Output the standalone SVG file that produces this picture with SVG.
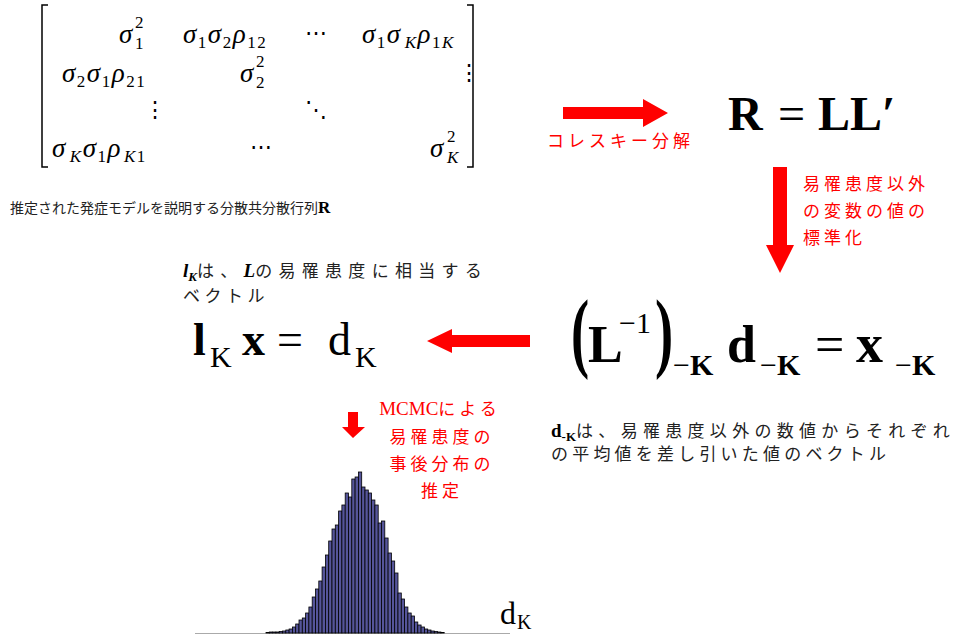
<svg xmlns="http://www.w3.org/2000/svg" width="956" height="637" viewBox="0 0 956 637">
<style>
.m{font-family:"Liberation Serif",serif;font-style:italic;font-size:27px;letter-spacing:1.5px;fill:#000}
.sb{font-family:"Liberation Serif",serif;font-style:normal;font-size:17px;fill:#000}
.sbi{font-family:"Liberation Serif",serif;font-style:italic;font-size:17px;fill:#000}
.dots{font-family:"DejaVu Serif",serif;font-size:22px;fill:#000}
.bf{font-family:"Liberation Serif",serif;font-weight:bold;fill:#000}
.rm{font-family:"Liberation Serif",serif;fill:#000}
.jp{font-family:"Liberation Sans","Noto Sans CJK JP",sans-serif;font-size:17px;letter-spacing:4.5px;fill:#222}
.jps{font-family:"Liberation Sans","Noto Sans CJK JP",sans-serif;font-size:14px;letter-spacing:0px;fill:#222}
.red{font-family:"Liberation Sans","Noto Sans CJK JP",sans-serif;font-size:17px;letter-spacing:4px;fill:#ff0000}
.arrow{fill:#ff0000}
.bar{fill:#55559a;stroke:#000;stroke-width:0.8}
.br{fill:none;stroke:#000;stroke-width:1.5}
.ns{letter-spacing:0px}
</style>

<g id="matrix">
  <path class="br" d="M48,5 H42 V167 H48"/>
  <path class="br" d="M467,5 H473 V167 H467"/>
  <text class="m" x="119" y="43">σ</text><text class="sb" x="135" y="49">1</text><text class="sb" x="135" y="28">2</text>
  <text class="m" x="183" y="43">σ<tspan class="sb" dy="5">1</tspan><tspan dy="-5">σ</tspan><tspan class="sb" dy="5">2</tspan><tspan dy="-5">ρ</tspan><tspan class="sb" dy="5">12</tspan></text>
  <text class="dots" x="305" y="40">⋯</text>
  <text class="m" x="362" y="43">σ<tspan class="sb" dy="5">1</tspan><tspan dy="-5">σ</tspan><tspan class="sbi" dy="5" dx="3">K</tspan><tspan dy="-5">ρ</tspan><tspan class="sb" dy="5">1</tspan><tspan class="sbi">K</tspan></text>
  <text class="m" x="62" y="82">σ<tspan class="sb" dy="5">2</tspan><tspan dy="-5">σ</tspan><tspan class="sb" dy="5">1</tspan><tspan dy="-5">ρ</tspan><tspan class="sb" dy="5">21</tspan></text>
  <text class="m" x="240" y="82">σ</text><text class="sb" x="256" y="88">2</text><text class="sb" x="256" y="67">2</text>
  <text class="dots" x="458" y="80">⋮</text>
  <text class="dots" x="144" y="117">⋮</text>
  <text class="dots" x="305" y="117">⋱</text>
  <text class="m" x="52" y="157">σ<tspan class="sbi" dy="5" dx="3">K</tspan><tspan dy="-5">σ</tspan><tspan class="sb" dy="5">1</tspan><tspan dy="-5">ρ</tspan><tspan class="sbi" dy="5" dx="2">K</tspan><tspan class="sb">1</tspan></text>
  <text class="dots" x="250" y="154">⋯</text>
  <text class="m" x="430" y="157">σ</text><text class="sbi" x="447" y="163">K</text><text class="sb" x="447" y="142">2</text>
</g>

<g id="caption-matrix">
  <text class="jps" x="10" y="213">推定された発症モデルを説明する分散共分散行列<tspan class="bf" font-size="17">R</tspan></text>
</g>

<g id="eq-R">
  <text class="bf" font-size="48" x="728" y="130">R</text>
  <text class="rm" font-size="48" x="778" y="130">=</text>
  <text class="bf" font-size="48" x="818" y="130">LL′</text>
</g>

<g id="label-cholesky">
  <text class="red" x="547" y="147">コレスキー分解</text>
</g>

<g id="label-standardize">
  <text class="red" x="803" y="190">易罹患度以外</text>
  <text class="red" x="803" y="217">の変数の値の</text>
  <text class="red" x="803" y="244">標準化</text>
</g>

<g id="eq-x">
  <text class="bf" font-size="88" transform="translate(571,361) scale(0.62,1)">(</text>
  <text class="bf" font-size="52" x="588" y="362">L</text>
  <text class="rm" font-size="30" x="619" y="333">−1</text>
  <text class="bf" font-size="88" transform="translate(655,361) scale(0.62,1)">)</text>
  <text class="bf" font-size="30" x="673" y="375"><tspan font-weight="normal">−</tspan>K</text>
  <text class="bf" font-size="52" x="727" y="362">d</text>
  <text class="bf" font-size="30" x="760" y="375"><tspan font-weight="normal">−</tspan>K</text>
  <text class="rm" font-size="52" x="815" y="362">=</text>
  <text class="bf" font-size="54" x="856" y="362">x</text>
  <text class="bf" font-size="30" x="895" y="375"><tspan font-weight="normal">−</tspan>K</text>
</g>

<g id="caption-d">
  <text class="jp" x="551" y="437" style="letter-spacing:5.3px"><tspan class="bf ns" font-size="19">d</tspan><tspan class="bf ns" font-size="13" dy="4">-K</tspan><tspan dy="-4">は、易罹患度以外の数値からそれぞれ</tspan></text>
  <text class="jp" x="551" y="460" style="letter-spacing:4.2px">の平均値を差し引いた値のベクトル</text>
</g>

<g id="eq-l">
  <text class="bf" font-size="46" x="193" y="355">l</text>
  <text class="rm" font-size="30" x="210" y="367">K</text>
  <text class="bf" font-size="46" x="242" y="355">x</text>
  <text class="rm" font-size="46" x="277" y="355">=</text>
  <text class="rm" font-size="46" x="328" y="355">d</text>
  <text class="rm" font-size="30" x="355" y="367">K</text>
</g>

<g id="caption-l">
  <text class="jp" x="183" y="277" style="letter-spacing:6.3px"><tspan class="bf ns" font-style="italic" font-size="19">l</tspan><tspan class="bf ns" font-style="italic" font-size="13" dy="4">K</tspan><tspan dy="-4">は、</tspan><tspan class="bf ns" font-style="italic" font-size="19">L</tspan><tspan>の易罹患度に相当する</tspan></text>
  <text class="jp" x="183" y="302">ベクトル</text>
</g>

<g id="label-mcmc">
  <text class="red" x="440" y="415" text-anchor="middle"><tspan class="ns" font-family="Liberation Serif,serif" font-size="19">MCMC</tspan>による</text>
  <text class="red" x="442" y="443" text-anchor="middle">易罹患度の</text>
  <text class="red" x="442" y="470" text-anchor="middle">事後分布の</text>
  <text class="red" x="442" y="497" text-anchor="middle">推定</text>
</g>

<g id="histogram">
  <line x1="195" y1="633.5" x2="510" y2="633.5" stroke="#aaaaaa" stroke-width="1.2"/>
  <rect class="bar" x="266.0" y="632.5" width="3.3" height="0.5"/>
  <rect class="bar" x="269.3" y="632" width="3.3" height="1"/>
  <rect class="bar" x="272.6" y="632" width="3.3" height="1"/>
  <rect class="bar" x="275.9" y="632" width="3.3" height="1"/>
  <rect class="bar" x="279.2" y="631.5" width="3.3" height="1.5"/>
  <rect class="bar" x="282.5" y="631" width="3.3" height="2"/>
  <rect class="bar" x="285.8" y="630" width="3.3" height="3"/>
  <rect class="bar" x="289.1" y="629" width="3.3" height="4"/>
  <rect class="bar" x="292.4" y="627" width="3.3" height="6"/>
  <rect class="bar" x="295.7" y="624" width="3.3" height="9"/>
  <rect class="bar" x="299.0" y="620" width="3.3" height="13"/>
  <rect class="bar" x="302.3" y="618" width="3.3" height="15"/>
  <rect class="bar" x="305.6" y="613" width="3.3" height="20"/>
  <rect class="bar" x="308.9" y="607" width="3.3" height="26"/>
  <rect class="bar" x="312.2" y="597" width="3.3" height="36"/>
  <rect class="bar" x="315.5" y="589" width="3.3" height="44"/>
  <rect class="bar" x="318.8" y="581" width="3.3" height="52"/>
  <rect class="bar" x="322.1" y="567" width="3.3" height="66"/>
  <rect class="bar" x="325.4" y="555" width="3.3" height="78"/>
  <rect class="bar" x="328.7" y="541" width="3.3" height="92"/>
  <rect class="bar" x="332.0" y="529" width="3.3" height="104"/>
  <rect class="bar" x="335.3" y="525" width="3.3" height="108"/>
  <rect class="bar" x="338.6" y="511" width="3.3" height="122"/>
  <rect class="bar" x="341.9" y="505" width="3.3" height="128"/>
  <rect class="bar" x="345.2" y="493" width="3.3" height="140"/>
  <rect class="bar" x="348.5" y="497" width="3.3" height="136"/>
  <rect class="bar" x="351.8" y="479" width="3.3" height="154"/>
  <rect class="bar" x="355.1" y="477" width="3.3" height="156"/>
  <rect class="bar" x="358.4" y="472" width="3.3" height="161"/>
  <rect class="bar" x="361.7" y="487" width="3.3" height="146"/>
  <rect class="bar" x="365.0" y="490" width="3.3" height="143"/>
  <rect class="bar" x="368.3" y="493" width="3.3" height="140"/>
  <rect class="bar" x="371.6" y="500" width="3.3" height="133"/>
  <rect class="bar" x="374.9" y="505" width="3.3" height="128"/>
  <rect class="bar" x="378.2" y="523" width="3.3" height="110"/>
  <rect class="bar" x="381.5" y="521" width="3.3" height="112"/>
  <rect class="bar" x="384.8" y="538" width="3.3" height="95"/>
  <rect class="bar" x="388.1" y="553" width="3.3" height="80"/>
  <rect class="bar" x="391.4" y="561" width="3.3" height="72"/>
  <rect class="bar" x="394.7" y="573" width="3.3" height="60"/>
  <rect class="bar" x="398.0" y="593" width="3.3" height="40"/>
  <rect class="bar" x="401.3" y="599" width="3.3" height="34"/>
  <rect class="bar" x="404.6" y="607" width="3.3" height="26"/>
  <rect class="bar" x="407.9" y="613" width="3.3" height="20"/>
  <rect class="bar" x="411.2" y="616" width="3.3" height="17"/>
  <rect class="bar" x="414.5" y="622" width="3.3" height="11"/>
  <rect class="bar" x="417.8" y="625" width="3.3" height="8"/>
  <rect class="bar" x="421.1" y="627" width="3.3" height="6"/>
  <rect class="bar" x="424.4" y="629" width="3.3" height="4"/>
  <rect class="bar" x="427.7" y="630" width="3.3" height="3"/>
  <rect class="bar" x="431.0" y="631" width="3.3" height="2"/>
  <rect class="bar" x="434.3" y="631.5" width="3.3" height="1.5"/>
  <rect class="bar" x="437.6" y="632" width="3.3" height="1"/>
  <rect class="bar" x="440.9" y="632.5" width="3.3" height="0.5"/>
  <text class="rm" font-size="32" x="500" y="624">d</text>
  <text class="rm" font-size="20" x="517" y="629">K</text>
</g>

<g id="connectors">
  <polygon class="arrow" points="563,107 643,107 643,99 668,113 643,127 643,119 563,119"/>
  <polygon class="arrow" points="773,167 787,167 787,245 794,245 780,273 766,245 773,245"/>
  <polygon class="arrow" points="427,341 452,329 452,335 530,335 530,347 452,347 452,353"/>
  <polygon class="arrow" points="348,412 358,412 358,427 365,427 353,438 342,427 348,427"/>
</g>
</svg>
